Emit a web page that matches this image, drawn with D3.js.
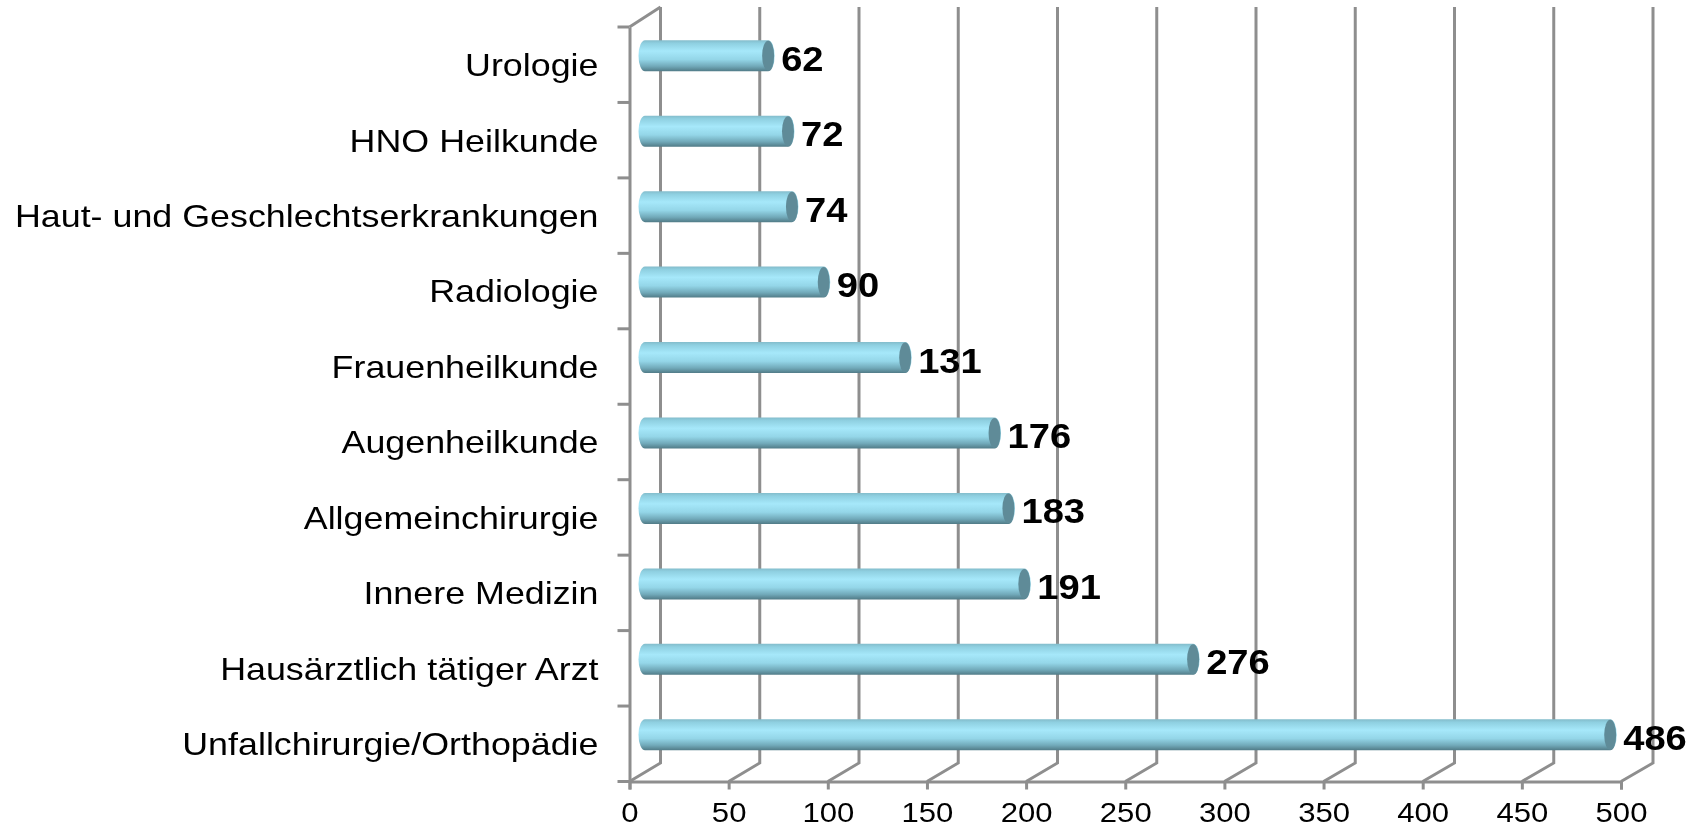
<!DOCTYPE html>
<html>
<head>
<meta charset="utf-8">
<script src="https://cdn.jsdelivr.net/npm/d3@7"></script>
<style>
  html, body { margin: 0; padding: 0; background: #fff; }
  svg { display: block; filter: blur(0.7px); }
  text { font-family: "Liberation Sans", Arial, sans-serif; fill: #000; }
</style>
</head>
<body>
<div class="visHolder"></div>
<script>
const width = 1702,
  height = 828;

const categories = [
  "Urologie",
  "HNO Heilkunde",
  "Haut- und Geschlechtserkrankungen",
  "Radiologie",
  "Frauenheilkunde",
  "Augenheilkunde",
  "Allgemeinchirurgie",
  "Innere Medizin",
  "Hausärztlich tätiger Arzt",
  "Unfallchirurgie/Orthopädie",
];
const values = [62, 72, 74, 90, 131, 176, 183, 191, 276, 486];
const xTicks = [0, 50, 100, 150, 200, 250, 300, 350, 400, 450, 500];

// front plane of the fake 3d box, back wall sits up and to the right of it
const frontLeft = 629.5,
  frontRight = 1621,
  frontTop = 27,
  frontBottom = 781.5;
const backBottom = 763,
  backTop = 7;
const axisColor = "#8e8e8e";

const xScale = d3.scaleLinear().domain([0, 500]).range([frontLeft, frontRight]);
const xBack = d3.scaleLinear().domain([0, 500]).range([660.5, 1653]);
// tubes stand halfway between front and back
const xBar = d3.scaleLinear().domain([0, 500]).range([645, 1638]);

const yScale = d3
  .scaleBand()
  .domain(categories)
  .range([frontTop, frontBottom]);
const yEdge = d3.scaleLinear().domain([0, 10]).range([frontTop, frontBottom]);

const svg = d3
  .select(".visHolder")
  .append("svg")
  .attr("width", width)
  .attr("height", height);

const defs = svg.append("defs");
const grad = defs
  .append("linearGradient")
  .attr("id", "tube")
  .attr("x1", 0)
  .attr("y1", 0)
  .attr("x2", 0)
  .attr("y2", 1);
[
  [0, "#83bccb"],
  [0.1, "#8fd0e1"],
  [0.35, "#a6e8fa"],
  [0.62, "#94d6e8"],
  [0.84, "#71a9b9"],
  [1, "#517b87"],
].forEach((s) => grad.append("stop").attr("offset", s[0]).attr("stop-color", s[1]));

// back wall and floor lines
const grid = svg.append("g").attr("id", "grid");
grid
  .selectAll("path")
  .data(xTicks)
  .enter()
  .append("path")
  .attr("fill", "none")
  .attr("stroke", axisColor)
  .attr("stroke-width", 3)
  .attr("d", (d) => {
    const p = d3.path();
    p.moveTo(xScale(d), frontBottom);
    p.lineTo(xBack(d), backBottom);
    p.lineTo(xBack(d), backTop);
    return p.toString();
  });

// side wall edge at the top
const topEdge = d3.path();
topEdge.moveTo(frontLeft, frontTop);
topEdge.lineTo(xBack(0), backTop);
grid
  .append("path")
  .attr("d", topEdge.toString())
  .attr("fill", "none")
  .attr("stroke", axisColor)
  .attr("stroke-width", 3);

// x axis
const xAxis = d3.axisBottom(xScale).tickValues(xTicks).tickSize(8).tickPadding(11);
const gx = svg
  .append("g")
  .attr("id", "x-axis")
  .attr("transform", "translate(0," + frontBottom + ")")
  .call(xAxis);
gx.select(".domain").attr("stroke", axisColor).attr("stroke-width", 3);
gx.selectAll(".tick line").attr("stroke", axisColor).attr("stroke-width", 3);
gx.selectAll(".tick text")
  .attr("y", 0)
  .attr("dy", 0)
  .attr("transform", "translate(0,40.5) scale(1.11,1)")
  .style("font-size", "28px");

// y axis, ticks go on the band edges so they are drawn apart from the labels
const yAxis = d3.axisLeft(yScale).tickSize(0).tickPadding(0);
const gy = svg
  .append("g")
  .attr("id", "y-axis")
  .attr("transform", "translate(" + frontLeft + ",0)")
  .call(yAxis);
gy.select(".domain").attr("stroke", axisColor).attr("stroke-width", 3);
gy.selectAll(".tick text")
  .attr("x", 0)
  .attr("dy", 0)
  .attr("transform", "translate(-31,11.4) scale(1.156,1)")
  .style("font-size", "31px");

svg
  .append("g")
  .selectAll("line")
  .data(d3.range(0, 11))
  .enter()
  .append("line")
  .attr("x1", frontLeft - 12)
  .attr("x2", frontLeft)
  .attr("y1", (d) => yEdge(d))
  .attr("y2", (d) => yEdge(d))
  .attr("stroke", axisColor)
  .attr("stroke-width", 3);

// tubes
const barHeight = 31,
  capRx = 6.5;
const barCy = (i) => yScale(categories[i]) + yScale.bandwidth() / 2 - 9;

const bars = svg
  .append("g")
  .attr("id", "bars")
  .selectAll("g")
  .data(values)
  .enter()
  .append("g");

bars
  .append("path")
  .attr("fill", "url(#tube)")
  .attr("d", (d, i) => {
    const x0 = xBar(0),
      x1 = xBar(d),
      y0 = barCy(i) - barHeight / 2,
      ry = barHeight / 2;
    return (
      "M" + x0 + "," + y0 +
      "L" + x1 + "," + y0 +
      "A" + capRx + "," + ry + " 0 0 1 " + x1 + "," + (y0 + barHeight) +
      "L" + x0 + "," + (y0 + barHeight) +
      "A" + capRx + "," + ry + " 0 0 1 " + x0 + "," + y0 +
      "Z"
    );
  });

bars
  .append("ellipse")
  .attr("cx", (d) => xBar(d))
  .attr("cy", (d, i) => barCy(i))
  .attr("rx", capRx - 0.5)
  .attr("ry", barHeight / 2 - 0.5)
  .attr("fill", "#5f8b98");

bars
  .append("text")
  .attr("transform", (d, i) =>
    "translate(" + (xBar(d) + 13) + "," + (barCy(i) + 15) + ") scale(1.09,1)"
  )
  .style("font-size", "35px")
  .style("font-weight", "bold")
  .text((d) => d);
</script>
</body>
</html>
